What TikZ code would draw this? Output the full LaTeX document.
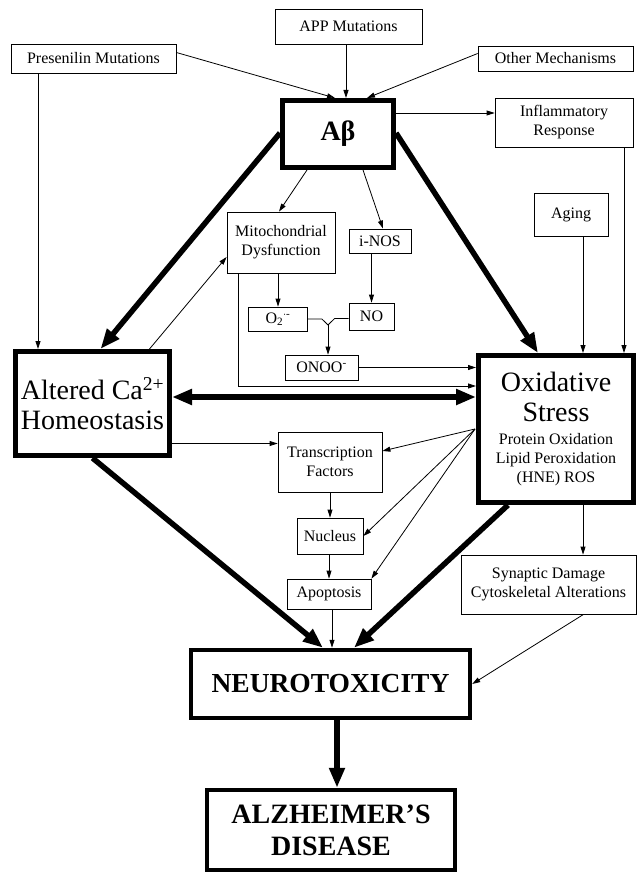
\documentclass[tikz,border=0pt]{standalone}
\usepackage{fontspec}
\setmainfont{Liberation Serif}
\usetikzlibrary{
	arrows.meta,
	calc
}

\begin{document}
\begin{tikzpicture}[x=1pt, y=-1pt,
		box/.style={draw, line width=0.8pt, align=center, inner sep=0pt, font=\fontsize{16}{19}\selectfont},
		bigbox/.style={draw, line width=5pt, align=center, inner sep=0pt, font=\fontsize{28}{30}\selectfont},
		arr/.style={line width=0.8pt, -{Triangle[length=8pt, width=5pt]}},
		bigarr/.style={line width=5.5pt, -{Triangle[length=20pt, width=15pt]}}]
		\useasboundingbox (0,0) rectangle (642,874);
		% top row
		\node[box, minimum width=165, minimum height=29] (pres) at (93.5,58.5) {Presenilin Mutations};
		\node[box, minimum width=147, minimum height=35] (app) at (348.5,26.5) {APP Mutations};
		\node[box, minimum width=155, minimum height=25] (other) at (555.5,58.5) {Other Mechanisms};
		\node[bigbox, minimum width=111, minimum height=67, font=\fontsize{28}{30}\selectfont\bfseries] (abeta) at (338,134) {Aβ};
		\node[box, minimum width=138, minimum height=49] (infl) at (564,122.5) {Inflammatory\\Response};
		% middle
		\node[box, minimum width=108, minimum height=61] (mito) at (281,242.5) {Mitochondrial\\Dysfunction};
		\node[box, minimum width=62, minimum height=24] (inos) at (380,241) {i-NOS};
		\node[box, minimum width=74, minimum height=43] (aging) at (571,214.5) {Aging};
		\node[box, minimum width=59, minimum height=24] (o2) at (278,319) {O\textsubscript{2}\textsuperscript{$\cdot$-}};
		\node[box, minimum width=45, minimum height=27] (no) at (371.5,316.5) {NO};
		\node[box, minimum width=73, minimum height=25] (onoo) at (321.5,367.5) {ONOO\textsuperscript{-}};
		\coordinate (join) at (328,325);
		\node[bigbox, minimum width=154, minimum height=104] (ca) at (92.5,403.5) {Altered Ca\textsuperscript{2+}\\Homeostasis};
		\node[bigbox, minimum width=155, minimum height=147] (oxid) at (556,429) {Oxidative\\Stress\\[-7pt]
			\fontsize{16}{20}\selectfont Protein Oxidation\\[-11pt]\fontsize{16}{20}\selectfont Lipid Peroxidation\\[-11pt]\fontsize{16}{20}\selectfont (HNE) ROS};
		\node[box, minimum width=104, minimum height=60] (trans) at (330,462) {Transcription\\Factors};
		\node[box, minimum width=66, minimum height=36] (nuc) at (330,536) {Nucleus};
		\node[box, minimum width=84, minimum height=30] (apop) at (329,594) {Apoptosis};
		\node[box, minimum width=175, minimum height=59] (syn) at (548.5,584.5) {Synaptic Damage\\Cytoskeletal Alterations};
		% bottom
		\node[bigbox, line width=4.5pt, minimum width=279, minimum height=68, font=\fontsize{27.5}{32}\selectfont\bfseries] (neuro) at (330.5,684) {NEUROTOXICITY};
		\node[bigbox, line width=4.5pt, minimum width=248, minimum height=80, font=\fontsize{28}{32}\selectfont\bfseries] (alz) at (331,830) {ALZHEIMER'S\\DISEASE};
		\coordinate (fan) at ([xshift=-1pt]oxid.west);
		
		\draw[arr] ([yshift=6pt]pres.east) -- ([xshift=-3pt]abeta.north);
		\draw[arr] ([xshift=8pt]abeta.north |- app.south) -- ([xshift=8pt]abeta.north);
		\draw[arr] ([yshift=5pt]other.west) -- ([xshift=29pt]abeta.north);
		\draw[arr] ([xshift=-55.5pt]pres.south) -- ([xshift=-55.5pt]pres.south |- ca.north);
		\draw[arr] ([yshift=21pt]abeta.east) -- ([yshift=21pt]abeta.east -| infl.west);
		\draw[arr] ([xshift=60pt]infl.south) -- ([xshift=60pt]infl.south |- oxid.north);
		\draw[arr] ([xshift=12pt]aging.south) -- ([xshift=12pt]aging.south |- oxid.north);
		\draw[bigarr] ([yshift=1pt]abeta.west) -- ([xshift=8pt]ca.north);
		\draw[bigarr] ([yshift=1pt]abeta.east) -- ([xshift=-18pt]oxid.north);
		\draw[arr] ([xshift=-31pt]abeta.south) -- ([xshift=-2pt]mito.north);
		\draw[arr] ([xshift=25pt]abeta.south) -- ([xshift=3pt]inos.north);
		\draw[arr] ([xshift=57pt]ca.north) -- ([yshift=-14.5pt]mito.west);
		\draw[arr] (mito.south -| o2.north) -- (o2.north);
		\draw[arr] (inos.south -| no.north) -- (no.north);
		\draw[line width=0.8pt] (o2.east) -- ++(14,0) -- (join);
		\draw[line width=0.8pt] ([yshift=-2pt]no.west) -- ++(-14,0) -- (join);
		\draw[arr] (join) -- (join |- onoo.north);
		\draw[arr] (onoo.east) -- (onoo.east -| oxid.west);
		\draw[arr] ([xshift=-43pt]mito.south) |- ([yshift=43pt]oxid.west);
		\draw[line width=5.5pt, {Triangle[length=20pt, width=15pt]}-{Triangle[length=20pt, width=15pt]}] ([yshift=6.5pt]ca.east) -- ([yshift=6.5pt]ca.east -| oxid.west);
		\draw[arr] ([yshift=-40pt]ca.east) -- ([yshift=-40pt]ca.east -| trans.west);
		\draw[arr] (fan) -- ([yshift=11pt]trans.east);
		\draw[arr] (fan) -- (nuc.east);
		\draw[arr] (fan) -- (apop.north east);
		\draw[arr] (trans.south -| nuc.north) -- (nuc.north);
		\draw[arr] (nuc.south -| apop.north) -- (apop.north);
		\draw[arr] ([xshift=3pt]apop.south) -- ([xshift=3pt]apop.south |- neuro.north);
		\draw[arr] ([xshift=27pt]oxid.south) -- ([xshift=27pt]oxid.south |- syn.north);
		\draw[arr] ([xshift=35pt]syn.south) -- (neuro.east);
		\draw[bigarr] (ca.south) -- ([xshift=-7.5pt]neuro.north);
		\draw[bigarr] ([xshift=-48pt]oxid.south) -- ([xshift=23.5pt]neuro.north);
		\draw[bigarr] ([xshift=6.5pt]neuro.south) -- ([xshift=6.5pt]neuro.south |- alz.north);
	\end{tikzpicture}
\end{document}
